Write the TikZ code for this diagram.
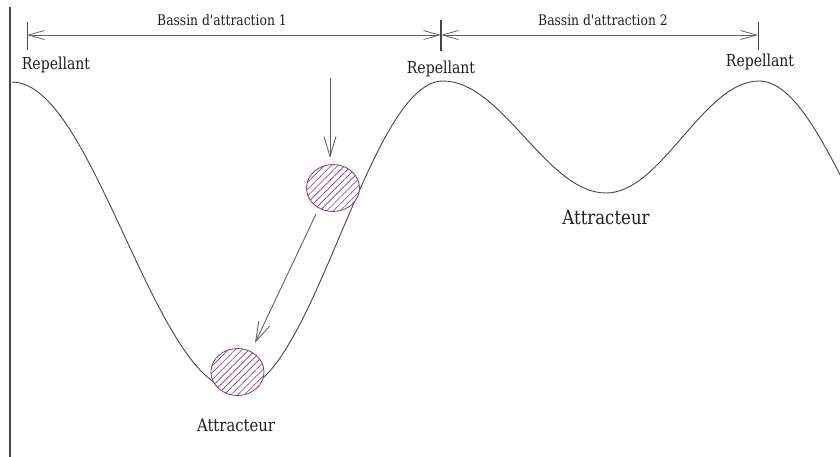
\documentclass[tikz,border=0pt]{standalone}
\usepackage{fontspec}
\newfontfamily\labfont[FakeStretch=0.85]{DejaVu Serif}
\usetikzlibrary{arrows.meta,patterns.meta,shapes.geometric}
\definecolor{ballc}{RGB}{125,60,125}
\definecolor{linec}{RGB}{70,70,70}
\definecolor{textc}{RGB}{30,30,30}
\begin{document}
\begin{tikzpicture}[x=1pt,y=-1pt,
  curve/.style={draw=linec,line width=0.9pt},
  axisline/.style={draw=linec,line width=1.6pt},
  dimline/.style={draw=linec!85,line width=0.8pt,{Straight Barb[length=16pt,width=9pt]}-{Straight Barb[length=16pt,width=9pt]}},
  ticks/.style={draw=linec,line width=0.9pt},
  arr/.style={draw=linec!85,line width=0.9pt,-{Straight Barb[length=20pt,width=12pt]}},
  ball/.style={ellipse,draw=ballc,line width=0.8pt,inner sep=0pt,minimum width=53pt,minimum height=47pt,
    preaction={fill=white},pattern={Lines[angle=45,distance=4.8pt,line width=0.65pt]},pattern color=ballc},
  toplab/.style={text=textc,font=\labfont\fontsize{14.5}{17}\selectfont},
  replab/.style={text=textc,font=\labfont\fontsize{16.5}{19}\selectfont},
  attlabR/.style={text=textc,font=\labfont\fontsize{19.5}{22}\selectfont},
  attlabB/.style={text=textc,font=\labfont\fontsize{17.4}{20}\selectfont}]
\useasboundingbox (0,0) rectangle (840,456);
\clip (0,0) rectangle (840,456);
% axis
\coordinate (ax0) at (10,7);
\coordinate (ax1) at (10,460);
\draw[axisline] (ax0) -- (ax1);
% curve
\coordinate (P1) at (12,82);
\coordinate (M1) at (124.5,236);
\coordinate (T1) at (237,390);
\coordinate (M2) at (340,235.5);
\coordinate (P2) at (443,81);
\coordinate (M3) at (524.5,137);
\coordinate (T2) at (606,193);
\coordinate (M4) at (682.5,137);
\coordinate (P3) at (759,81);
\coordinate (M5) at (851,196);
\draw[curve] (P1) cos (M1) sin (T1) cos (M2) sin (P2) cos (M3) sin (T2) cos (M4) sin (P3) cos (M5);
% balls
\node[ball] (b1) at (333,188) {};
\node[ball] (b2) at (237.5,372) {};
% arrows
\coordinate (a1s) at (330,78);
\coordinate (a1e) at (330,158);
\draw[arr] (a1s) -- (a1e);
\coordinate (a2s) at (316,214);
\coordinate (a2e) at (255,343);
\draw[arr] (a2s) -- (a2e);
% dimension line
\coordinate (d0) at (27,35);
\coordinate (d1) at (441,35);
\coordinate (d2) at (758,35);
\coordinate (t0a) at (27,22); \coordinate (t0b) at (27,50);
\coordinate (t1a) at (441,20); \coordinate (t1b) at (441,51);
\coordinate (t2a) at (758,22); \coordinate (t2b) at (758,50);
\draw[ticks] (t0a) -- (t0b);
\draw[ticks,line width=1.8pt] (t1a) -- (t1b);
\draw[ticks] (t2a) -- (t2b);
\draw[dimline] (d0) -- (d1);
\draw[dimline] (d1) -- (d2);
% labels
\node[toplab] (l1) at (222,20) {Bassin d'attraction 1};
\node[toplab] (l2) at (603,20) {Bassin d'attraction 2};
\node[replab] (r1) at (56,65) {Repellant};
\node[replab] (r2) at (441,69) {Repellant};
\node[replab] (r3) at (760,62) {Repellant};
\node[attlabR] (at1) at (606,218) {Attracteur};
\node[attlabB] (at2) at (236,425) {Attracteur};
\end{tikzpicture}
\end{document}
